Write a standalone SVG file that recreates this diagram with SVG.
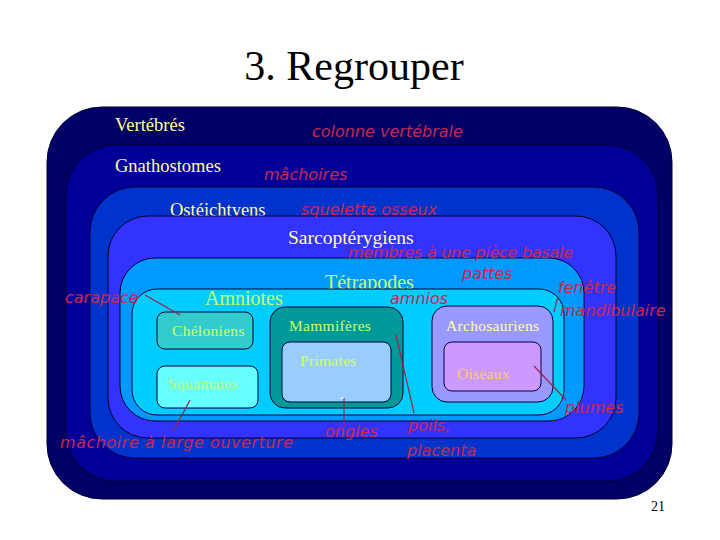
<svg xmlns="http://www.w3.org/2000/svg" width="720" height="540" viewBox="0 0 720 540">
<style>
.box{stroke:#000033;stroke-width:1}
.lab{font-family:"Liberation Serif",serif;fill:#ffff99}
.lab2{font-family:"Liberation Serif",serif;fill:#ccff66}
.big{font-size:18.5px}
.sm{font-size:15.5px;letter-spacing:0.3px}
.red{font-family:"DejaVu Sans","Liberation Sans",sans-serif;font-style:italic;font-weight:200;fill:#c8284f;font-size:16px}
.con{stroke:#99224a;stroke-width:1.2;fill:none}
</style>
<rect width="720" height="540" fill="#ffffff"/>
<text x="354" y="80" text-anchor="middle" font-family="Liberation Serif, serif" font-size="42" fill="#000">3. Regrouper</text>
<g id="vertebres"><rect class="box" x="47" y="107" width="625" height="392" rx="55" fill="#000066"/><text class="lab big" x="115" y="131">Vertébrés</text></g>
<g id="gnathostomes"><rect class="box" x="66" y="145" width="592" height="336" rx="50" fill="#000099"/><text class="lab big" x="115" y="172">Gnathostomes</text></g>
<g id="osteichtyens"><rect class="box" x="90" y="187" width="549" height="271" rx="45" fill="#0033cc"/><text class="lab big" x="170" y="216" font-size="19.5">Ostéichtyens</text></g>
<g id="sarcopterygiens"><rect class="box" x="108" y="216" width="508" height="222" rx="40" fill="#3333ff"/><text class="lab" x="288" y="244" font-size="19.5">Sarcoptérygiens</text></g>
<g id="tetrapodes"><rect class="box" x="120" y="258" width="464" height="163" rx="35" fill="#0099ff"/><text class="lab2" x="325" y="289" font-size="20">Tétrapodes</text></g>
<g id="amniotes"><rect class="box" x="132" y="289" width="432" height="126" rx="25" fill="#00ccff"/><text class="lab2" x="205" y="305" font-size="20">Amniotes</text></g>
<g id="cheloniens"><rect class="box" x="157" y="312" width="96" height="37" rx="8" fill="#33cccc"/><text class="lab2 sm" x="172" y="336">Chéloniens</text></g>
<g id="squamates"><rect class="box" x="157" y="366" width="101" height="42" rx="8" fill="#66ffff"/><text class="lab2 sm" x="168" y="389">Squamates</text></g>
<g id="mammiferes"><rect class="box" x="270" y="307" width="133" height="101" rx="15" fill="#009999"/><text class="lab2 sm" x="289" y="331">Mammifères</text></g>
<g id="primates"><rect class="box" x="282" y="342" width="109" height="60" rx="8" fill="#99ccff"/><text class="lab2 sm" x="300" y="366">Primates</text></g>
<g id="archosauriens"><rect class="box" x="432" y="306" width="121" height="96" rx="15" fill="#9999ff"/><text class="lab sm" x="446" y="331">Archosauriens</text></g>
<g id="oiseaux"><rect class="box" x="444" y="342" width="97" height="49" rx="8" fill="#cc99ff"/><text class="sm" x="457" y="379" font-family="Liberation Serif, serif" fill="#ffcc66">Oiseaux</text></g>
<g id="caracteres">
<text class="red" x="312" y="137">colonne vertébrale</text>
<text class="red" x="264" y="180">mâchoires</text>
<text class="red" x="301" y="215">squelette osseux</text>
<text class="red" x="348" y="258" textLength="225">membres à une pièce basale</text>
<text class="red" x="462" y="279">pattes</text>
<text class="red" x="390" y="304">amnios</text>
<text class="red" x="65" y="303">carapace</text>
<text class="red" x="558" y="293">fenêtre</text>
<text class="red" x="560" y="316">mandibulaire</text>
<text class="red" x="565" y="413">plumes</text>
<text class="red" x="60" y="448" textLength="233">mâchoire à large ouverture</text>
<text class="red" x="325" y="437">ongles</text>
<text class="red" x="408" y="431">poils,</text>
<text class="red" x="407" y="456">placenta</text>
</g>
<g id="connecteurs">
<line class="con" x1="145" y1="295" x2="180" y2="315"/>
<line class="con" x1="190" y1="400" x2="173" y2="432"/>
<line class="con" x1="344" y1="398" x2="344" y2="428"/>
<line class="con" x1="396" y1="335" x2="414" y2="413"/>
<line class="con" x1="558" y1="296" x2="554" y2="312"/>
<line class="con" x1="534" y1="366" x2="566" y2="400"/>
<line x1="340" y1="398" x2="344" y2="398" stroke="#ffffff" stroke-width="1"/>
</g>
<text x="651" y="511" font-family="Liberation Serif, serif" font-size="14" fill="#000">21</text>
</svg>
